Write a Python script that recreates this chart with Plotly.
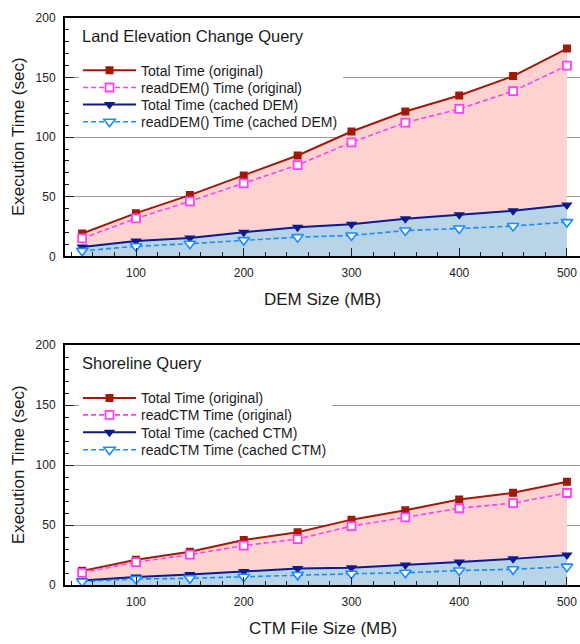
import plotly.graph_objects as go

sizes = [50, 100, 150, 200, 250, 300, 350, 400, 450, 500]

dem_total_orig = [19.2, 36.3, 51.4, 67.9, 84.6, 104.7, 121.4, 134.9, 151.1, 174.2]
dem_read_orig = [15.1, 31.9, 46.2, 61.3, 76.6, 95.6, 112.1, 123.6, 138.5, 159.9]
dem_total_cached = [8.0, 12.9, 15.4, 20.3, 24.5, 26.9, 31.6, 34.9, 38.2, 43.1]
dem_read_cached = [4.7, 8.5, 10.7, 13.7, 16.2, 17.6, 21.7, 23.4, 25.5, 28.8]

ctm_total_orig = [11.9, 21.1, 27.8, 37.6, 44.1, 54.6, 62.4, 71.4, 77.0, 86.2]
ctm_read_orig = [10.3, 19.2, 25.4, 33.0, 38.4, 49.2, 56.5, 64.1, 68.4, 76.8]
ctm_total_cached = [3.8, 6.8, 8.9, 11.4, 13.8, 14.6, 16.8, 19.2, 21.9, 25.1]
ctm_read_cached = [3.0, 5.1, 5.7, 7.0, 8.6, 9.5, 10.3, 12.2, 13.2, 15.4]

titles = ["Land Elevation Change Query", "Shoreline Query"]
xtitles = ["DEM Size (MB)", "CTM File Size (MB)"]
ytitle = "Execution Time (sec)"
names_dem = ["Total Time (original)", "readDEM() Time (original)",
             "Total Time (cached DEM)", "readDEM() Time (cached DEM)"]
names_ctm = ["Total Time (original)", "readCTM Time (original)",
             "Total Time (cached CTM)", "readCTM Time (cached CTM)"]

FONT = "Liberation Sans, Arial, Helvetica, sans-serif"
W, H = 580, 644
ML = 65
PW = W - ML
XR = [34.1, 512.1]
YR = [0, 200]

RED = "#a01a0c"
MAG = "#ff40f0"
NAVY = "#0c1a8c"
LBLUE = "#1a8cff"
PINK_FILL = "#ffd2d2"
BLUE_FILL = "#b9d3e7"

fig = go.Figure()

def py(px):
    return (H - px) / H

def pxx(px):
    return (px - ML) / PW

def px_to_xval(px):
    return XR[0] + (px - ML) / PW * (XR[1] - XR[0])

panels = [
    dict(data=[dem_total_orig, dem_read_orig, dem_total_cached, dem_read_cached],
         names=names_dem, xa="x", ya="y", top=11, bottom=255,
         items=[65, 82.7, 100, 117.7], legs=["legend", "legend2", "legend3", "legend4"],
         mask_right=343),
    dict(data=[ctm_total_orig, ctm_read_orig, ctm_total_cached, ctm_read_cached],
         names=names_ctm, xa="x2", ya="y2", top=345.7, bottom=591,
         items=[400, 417.3, 435, 453], legs=["legend5", "legend6", "legend7", "legend8"],
         mask_right=332),
]

styles = [
    dict(line=dict(color=RED, width=2), marker=dict(symbol="square", size=8, color=RED)),
    dict(line=dict(color=MAG, width=1.6, dash="5px,3px"),
         marker=dict(symbol="square", size=8, color="white", line=dict(color=MAG, width=1.8))),
    dict(line=dict(color=NAVY, width=2), marker=dict(symbol="triangle-down", size=10, color=NAVY)),
    dict(line=dict(color=LBLUE, width=1.6, dash="5px,3px"),
         marker=dict(symbol="triangle-down", size=10, color="white", line=dict(color=LBLUE, width=1.6))),
]

for p in panels:
    # shaded areas (under total original: pink, under total cached: blue)
    for i, fc in ((0, PINK_FILL), (2, BLUE_FILL)):
        fig.add_trace(go.Scatter(
            x=sizes, y=p["data"][i], mode="none", fill="tozeroy", fillcolor=fc,
            xaxis=p["xa"], yaxis=p["ya"], showlegend=False, hoverinfo="skip",
        ))
    for i in (0, 2, 1, 3):
        st = styles[i]
        fig.add_trace(go.Scatter(
            x=sizes, y=p["data"][i], name=p["names"][i], mode="lines+markers",
            xaxis=p["xa"], yaxis=p["ya"], legend=p["legs"][i],
            line=st["line"], marker=st["marker"],
        ))

axis_common = dict(
    showline=True, linecolor="black", linewidth=2,
    ticks="inside", tickcolor="#222", tickwidth=1.3,
    tickfont=dict(family=FONT, size=12, color="#222"),
    zeroline=False,
)

layout = dict(
    width=W, height=H, margin=dict(l=ML, r=0, t=0, b=0),
    paper_bgcolor="white", plot_bgcolor="white",
    font=dict(family=FONT, color="#1a1a1a"),
    showlegend=True,
    annotations=[], shapes=[],
)

for k, p in enumerate(panels):
    sfx = "" if k == 0 else "2"
    layout["xaxis" + sfx] = dict(
        axis_common, domain=[0, 1], range=XR, anchor="y" + sfx,
        tick0=0, dtick=100, ticklen=8, showgrid=False, mirror=True,
        minor=dict(dtick=20, ticklen=4, tickcolor="#222", ticks="inside", showgrid=False),
        ticklabelstandoff=4,
    )
    layout["yaxis" + sfx] = dict(
        axis_common, domain=[py(p["bottom"]), py(p["top"])], range=YR, anchor="x" + sfx,
        tick0=0, dtick=50, ticklen=9, showgrid=True, gridcolor="#9a9a9a", gridwidth=1,
        minor=dict(dtick=10, ticklen=4, tickcolor="#222", ticks="inside", showgrid=False),
        ticklabelstandoff=5,
    )
    for j, leg in enumerate(p["legs"]):
        layout[leg] = dict(
            x=pxx(78), xanchor="left", y=py(p["items"][j]), yanchor="middle",
            bgcolor="rgba(0,0,0,0)", borderwidth=0, itemwidth=53,
            font=dict(family=FONT, size=14, color="#1a1a1a"),
            itemclick=False, itemdoubleclick=False,
        )
    # panel title
    layout["annotations"].append(dict(
        text=titles[k], xref="paper", yref="paper", x=pxx(80), y=py(p["top"] + 18.5),
        xanchor="left", yanchor="middle", showarrow=False,
        font=dict(family=FONT, size=16.5, color="#1a1a1a"),
    ))
    # axis titles
    layout["annotations"].append(dict(
        text=xtitles[k], xref="paper", yref="paper", x=0.5, y=py(p["bottom"] + 44),
        xanchor="center", yanchor="middle", showarrow=False,
        font=dict(family=FONT, size=17, color="#1a1a1a"),
    ))
    layout["annotations"].append(dict(
        text=ytitle, xref="paper", yref="paper", x=pxx(18), y=py((p["top"] + p["bottom"]) / 2),
        xanchor="center", yanchor="middle", showarrow=False, textangle=-90,
        font=dict(family=FONT, size=17, color="#1a1a1a"),
    ))
    # white mask behind the legend (hides the gridline under the legend box)
    hpx = p["bottom"] - p["top"]
    def yval(px, p=p, hpx=hpx):
        return YR[0] + (p["bottom"] - px) / hpx * (YR[1] - YR[0])
    layout["shapes"].append(dict(
        type="rect", xref="x" + sfx, yref="y" + sfx,
        x0=px_to_xval(79), x1=px_to_xval(p["mask_right"]),
        y0=yval(p["items"][3] + 9), y1=yval(p["items"][0] - 9),
        fillcolor="white", line=dict(width=0), layer="between",
    ))

fig.update_layout(**layout)
fig.write_html("out.html", post_script="document.body.style.margin='0';",
               config={"displayModeBar": False})
